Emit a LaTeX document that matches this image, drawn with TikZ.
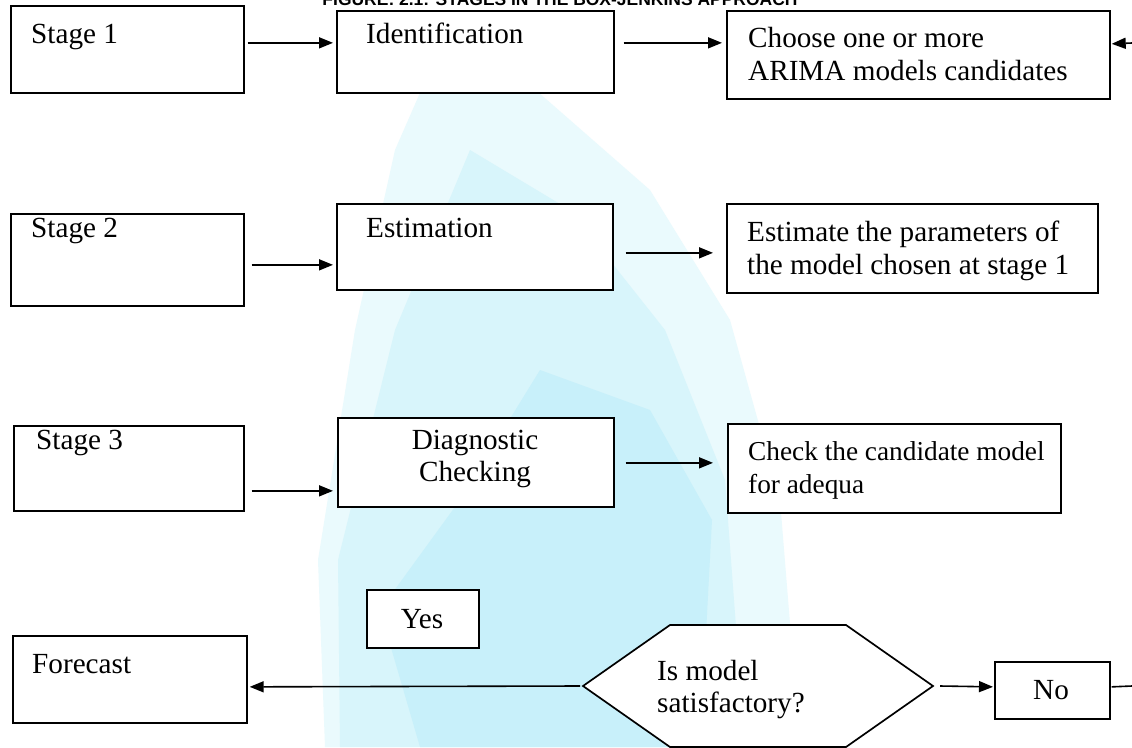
\documentclass[tikz,border=0pt]{standalone}
\usepackage{fontspec}
\setmainfont{Liberation Serif}
\newfontfamily\hdrfont{Liberation Sans}
\usetikzlibrary{arrows.meta,calc}
\definecolor{wmA}{RGB}{234,250,253}
\definecolor{wmB}{RGB}{216,245,251}
\definecolor{wmC}{RGB}{200,240,250}
\begin{document}
\begin{tikzpicture}[x=1pt,y=-1pt,
  box/.style={draw, line width=1.7pt, inner sep=0pt, fill=white, anchor=north west},
  txt/.style={anchor=base west, inner sep=0pt, font=\fontsize{29.2}{33}\selectfont},
  ctxt/.style={anchor=base, inner sep=0pt, font=\fontsize{29.2}{33}\selectfont},
  arr/.style={line width=1.6pt, -{Triangle[length=14pt,width=11pt]}},
  ln/.style={line width=1.6pt}]
\useasboundingbox (0,0) rectangle (1132,747);
\fill[white] (0,0) rectangle (1132,747);
% watermark
\fill[wmA] (430,70) -- (530,85) -- (650,190) -- (730,320) -- (780,500) -- (800,747) -- (325,747) -- (318,560) -- (355,330) -- (395,150) -- cycle;
\fill[wmB] (470,150) -- (570,210) -- (665,330) -- (725,480) -- (745,747) -- (340,747) -- (338,560) -- (395,330) -- cycle;
\fill[wmC] (540,370) -- (650,410) -- (712,520) -- (700,747) -- (420,747) -- (380,610) -- (460,500) -- cycle;
% header (cut off at the top in the reference)
\node[anchor=base, inner sep=0pt] (hdr) at (560,5) {\resizebox{475pt}{!}{\hdrfont\bfseries FIGURE: 2.1: STAGES IN THE BOX-JENKINS APPROACH}};
% boxes
\node[box, minimum width=233pt, minimum height=87pt] (s1) at (10,5) {};
\node[box, minimum width=277pt, minimum height=82pt] (id) at (336,10) {};
\node[box, minimum width=383pt, minimum height=88pt] (ch) at (726,10) {};
\node[box, minimum width=233pt, minimum height=92pt] (s2) at (10,213) {};
\node[box, minimum width=276pt, minimum height=86pt] (es) at (336,203) {};
\node[box, minimum width=371pt, minimum height=89pt] (et) at (726,203) {};
\node[box, minimum width=230pt, minimum height=85pt] (s3) at (13,425) {};
\node[box, minimum width=276pt, minimum height=89pt] (dg) at (337,417) {};
\node[box, minimum width=333pt, minimum height=89pt] (ck) at (727,423) {};
\node[box, minimum width=112pt, minimum height=58pt] (yes) at (366,589) {};
\node[box, minimum width=234pt, minimum height=87pt] (fc) at (12,635) {};
\node[box, minimum width=115pt, minimum height=57pt] (no) at (994,661) {};
% hexagon
\coordinate (hexL) at (583,686);
\coordinate (hexR) at (933,686);
\filldraw[fill=white, line width=1.7pt] (hexL) -- (670,625) -- (846,625) -- (hexR) -- (846,747) -- (670,747) -- cycle;
% texts
\node[txt] (t1) at (31,43) {Stage 1};
\node[txt] (t2) at (366,43) {Identification};
\node[txt] (t3) at (748,47) {Choose one or more};
\node[txt] (t3b) at (748,80) {ARIMA models candidates};
\node[txt] (t4) at (31,237) {Stage 2};
\node[txt] (t5) at (366,237) {Estimation};
\node[txt] (t6) at (747,241) {Estimate the parameters of};
\node[txt] (t6b) at (747,274) {the model chosen at stage 1};
\node[txt] (t7) at (36,449) {Stage 3};
\node[ctxt] (t8) at (475,449) {Diagnostic};
\node[ctxt] (t8b) at (475,481) {Checking};
\node[txt, font=\fontsize{27.3}{33}\selectfont] (t9) at (748,460) {Check the candidate model};
\node[txt, font=\fontsize{27.3}{33}\selectfont] (t9b) at (748,493) {for adequa};
\node[ctxt] (t10) at (422,628) {Yes};
\node[txt] (t11) at (32,673) {Forecast};
\node[txt] (t12) at (657,680) {Is model};
\node[txt] (t12b) at (657,712) {satisfactory?};
\node[ctxt] (t13) at (1051,699) {No};
% connectors
\coordinate (rin) at (1132,43);
\coordinate (rout) at (1132,686);
\draw[arr] ($(s1.east)+(3,-6.5)$) -- ($(id.west)+(-3,-9)$);
\draw[arr] ($(id.east)+(9,-9)$) -- ($(ch.west)+(-4,-12)$);
\draw[arr] (rin) -- ($(ch.east)+(1,-11)$);
\draw[arr] ($(s2.east)+(7,5)$) -- ($(es.west)+(-3,18)$);
\draw[arr] ($(es.east)+(12,6)$) -- ($(et.west)+(-13,4.5)$);
\draw[arr] ($(s3.east)+(7,22.5)$) -- ($(dg.west)+(-4,28.5)$);
\draw[arr] ($(dg.east)+(11,0.5)$) -- ($(ck.west)+(-14,-5.5)$);
\draw[arr] ($(hexL)+(-3,0)$) -- ($(fc.east)+(2,7.5)$);
\draw[arr] ($(hexR)+(7,0)$) -- ($(no.west)+(-1,-3.5)$);
\draw[ln] ($(no.east)+(1,-3.5)$) -- (rout);
\end{tikzpicture}
\end{document}
